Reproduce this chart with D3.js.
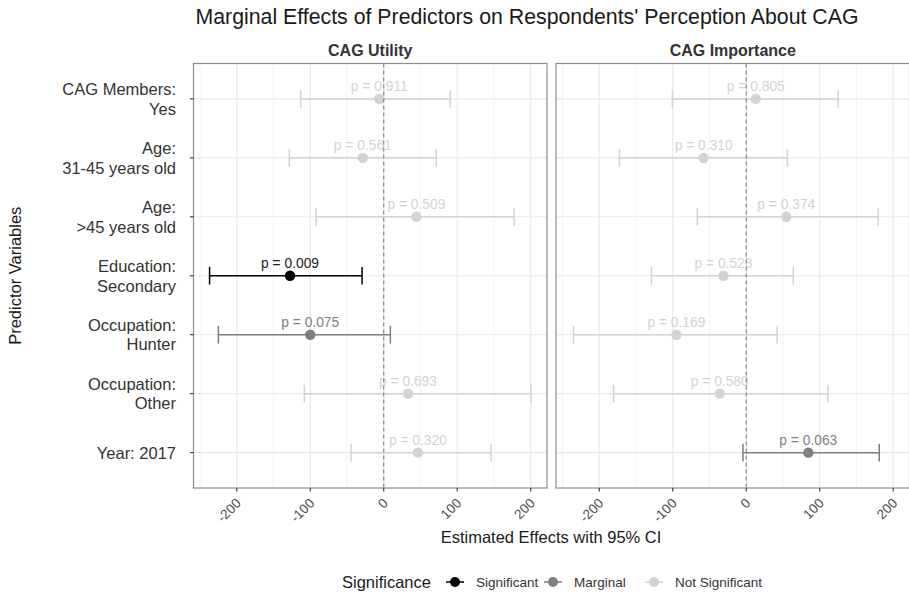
<!DOCTYPE html>
<html>
<head>
<meta charset="utf-8">
<script src="https://cdn.jsdelivr.net/npm/d3@7"></script>
<style>
  body { margin: 0; background: #fff; }
  text { font-family: "Liberation Sans", Arial, sans-serif; }
</style>
</head>
<body>
<div id="chart"></div>
<script>
// predictor labels (top to bottom), two lines each where needed
var predictors = [
  ["CAG Members:", "Yes"],
  ["Age:", "31-45 years old"],
  ["Age:", ">45 years old"],
  ["Education:", "Secondary"],
  ["Occupation:", "Hunter"],
  ["Occupation:", "Other"],
  ["Year: 2017"]
];

// CAG Utility panel
var utilityEst = [-6, -28.5, 44.5, -127.5, -100, 33, 46.5];
var utilityLow = [-113, -128.5, -92, -237, -225, -108, -44.5];
var utilityHigh = [90.5, 71.5, 177.5, -29.5, 9, 200.3, 146];
var utilityP = ["0.911", "0.561", "0.509", "0.009", "0.075", "0.693", "0.320"];

// CAG Importance panel
var importanceEst = [13, -58, 54.5, -31, -95, -36, 84.5];
var importanceLow = [-100.5, -172.5, -66.5, -129, -235, -180.5, -4.5];
var importanceHigh = [125, 56, 179.5, 64, 42, 111, 181];
var importanceP = ["0.805", "0.310", "0.374", "0.523", "0.169", "0.580", "0.063"];

var xTicks = [-200, -100, 0, 100, 200];
var xMinor = [-250, -150, -50, 50, 150];

var sigLevels = ["Significant", "Marginal", "Not Significant"];
var sigColors = ["#000000", "#7f7f7f", "#d3d3d3"];

var width = 909, height = 593;
var panelTop = 63.5, panelBottom = 488;
var panelW = 353.5;
var panelLefts = [193.5, 556];

var svg = d3.select("#chart").append("svg")
    .attr("width", width)
    .attr("height", height);

var color = d3.scaleOrdinal().domain(sigLevels).range(sigColors);

function sigOf(p) {
  var v = +p;
  if (v < 0.05) return "Significant";
  if (v < 0.1) return "Marginal";
  return "Not Significant";
}

// shared x domain with 5% expansion like ggplot
var allVals = utilityLow.concat(utilityHigh, importanceLow, importanceHigh);
var ext = d3.extent(allVals);
var pad = (ext[1] - ext[0]) * 0.05;

var y = d3.scalePoint()
    .domain(d3.range(predictors.length))
    .range([panelTop, panelBottom])
    .padding(0.6);

// title
svg.append("text")
    .attr("x", 527)
    .attr("y", 24)
    .attr("text-anchor", "middle")
    .attr("font-size", 21.3)
    .attr("fill", "#1a1a1a")
    .text("Marginal Effects of Predictors on Respondents' Perception About CAG");

function drawPanel(left, name, est, low, high, pvals) {
  var x = d3.scaleLinear()
      .domain([ext[0] - pad, ext[1] + pad])
      .range([left, left + panelW]);

  var g = svg.append("g");

  // strip label
  g.append("text")
      .attr("x", left + panelW / 2)
      .attr("y", 56)
      .attr("text-anchor", "middle")
      .attr("font-size", 16)
      .attr("font-weight", "bold")
      .attr("fill", "#333")
      .text(name);

  // grid
  g.selectAll(".minor").data(xMinor).enter().append("line")
      .attr("x1", function(d) { return x(d); })
      .attr("x2", function(d) { return x(d); })
      .attr("y1", panelTop).attr("y2", panelBottom)
      .attr("stroke", "#f4f4f4").attr("stroke-width", 1);
  g.selectAll(".major").data(xTicks).enter().append("line")
      .attr("x1", function(d) { return x(d); })
      .attr("x2", function(d) { return x(d); })
      .attr("y1", panelTop).attr("y2", panelBottom)
      .attr("stroke", "#e8e8e8").attr("stroke-width", 1.1);
  g.selectAll(".hgrid").data(d3.range(predictors.length)).enter().append("line")
      .attr("x1", left).attr("x2", left + panelW)
      .attr("y1", function(d) { return y(d); })
      .attr("y2", function(d) { return y(d); })
      .attr("stroke", "#e8e8e8").attr("stroke-width", 1.1);

  var rows = d3.range(predictors.length).map(function(i) {
    return {i: i, est: est[i], low: low[i], high: high[i], p: pvals[i], sig: sigOf(pvals[i])};
  });

  // error bars
  var cap = 0.3 * y.step() / 2;
  rows.forEach(function(d) {
    var c = color(d.sig);
    g.append("line")
        .attr("x1", x(d.low)).attr("x2", x(d.high))
        .attr("y1", y(d.i)).attr("y2", y(d.i))
        .attr("stroke", c).attr("stroke-width", 1.5);
    [d.low, d.high].forEach(function(v) {
      g.append("line")
          .attr("x1", x(v)).attr("x2", x(v))
          .attr("y1", y(d.i) - cap).attr("y2", y(d.i) + cap)
          .attr("stroke", c).attr("stroke-width", 1.5);
    });
  });

  // points
  g.selectAll(".pt").data(rows).enter().append("circle")
      .attr("cx", function(d) { return x(d.est); })
      .attr("cy", function(d) { return y(d.i); })
      .attr("r", 5.2)
      .attr("fill", function(d) { return color(d.sig); });

  // p labels
  g.selectAll(".plab").data(rows).enter().append("text")
      .attr("x", function(d) { return x(d.est); })
      .attr("y", function(d) { return y(d.i) - 8; })
      .attr("text-anchor", "middle")
      .attr("font-size", 13.8)
      .attr("fill", function(d) { return d.sig == "Significant" ? "#222" : color(d.sig); })
      .text(function(d) { return "p = " + d.p; });

  // zero line
  g.append("line")
      .attr("x1", x(0)).attr("x2", x(0))
      .attr("y1", panelTop).attr("y2", panelBottom)
      .attr("stroke", "#808080").attr("stroke-width", 1.1)
      .attr("stroke-dasharray", "4,3");

  // panel border
  g.append("rect")
      .attr("x", left).attr("y", panelTop)
      .attr("width", panelW).attr("height", panelBottom - panelTop)
      .attr("fill", "none").attr("stroke", "#8c8c8c").attr("stroke-width", 1.2);

  // x axis ticks and rotated labels
  g.selectAll(".xt").data(xTicks).enter().append("line")
      .attr("x1", function(d) { return x(d); })
      .attr("x2", function(d) { return x(d); })
      .attr("y1", panelBottom).attr("y2", panelBottom + 3.5)
      .attr("stroke", "#333").attr("stroke-width", 1.1);
  g.selectAll(".xl").data(xTicks).enter().append("text")
      .attr("transform", function(d) { return "translate(" + (x(d) + 5) + "," + (panelBottom + 16) + ")rotate(-45)"; })
      .attr("text-anchor", "end")
      .attr("font-size", 13.5)
      .attr("fill", "#4d4d4d")
      .text(function(d) { return d; });
}

drawPanel(panelLefts[0], "CAG Utility", utilityEst, utilityLow, utilityHigh, utilityP);
drawPanel(panelLefts[1], "CAG Importance", importanceEst, importanceLow, importanceHigh, importanceP);

// y axis ticks and labels
var yAxis = svg.append("g");
yAxis.selectAll(".yt").data(d3.range(predictors.length)).enter().append("line")
    .attr("x1", panelLefts[0] - 3.5).attr("x2", panelLefts[0])
    .attr("y1", function(d) { return y(d); })
    .attr("y2", function(d) { return y(d); })
    .attr("stroke", "#333").attr("stroke-width", 1.1);

predictors.forEach(function(lines, i) {
  var t = yAxis.append("text")
      .attr("text-anchor", "end")
      .attr("font-size", 16.5)
      .attr("fill", "#333");
  var n = lines.length;
  lines.forEach(function(s, k) {
    t.append("tspan")
        .attr("x", 176)
        .attr("y", y(i) + 6 + (k - (n - 1) / 2) * 19.5)
        .text(s);
  });
});

// axis titles
svg.append("text")
    .attr("transform", "translate(21," + ((panelTop + panelBottom) / 2) + ")rotate(-90)")
    .attr("text-anchor", "middle")
    .attr("font-size", 16.5)
    .attr("fill", "#1a1a1a")
    .text("Predictor Variables");

svg.append("text")
    .attr("x", 551)
    .attr("y", 543)
    .attr("text-anchor", "middle")
    .attr("font-size", 16.5)
    .attr("fill", "#1a1a1a")
    .text("Estimated Effects with 95% CI");

// legend
var legend = svg.append("g");
legend.append("text")
    .attr("x", 342)
    .attr("y", 588)
    .attr("font-size", 16.5)
    .attr("fill", "#1a1a1a")
    .text("Significance");

var keyX = [455, 553, 654];
sigLevels.forEach(function(s, i) {
  legend.append("line")
      .attr("x1", keyX[i] - 9).attr("x2", keyX[i] + 9)
      .attr("y1", 582).attr("y2", 582)
      .attr("stroke", color(s)).attr("stroke-width", 1.5);
  legend.append("circle")
      .attr("cx", keyX[i]).attr("cy", 582).attr("r", 5)
      .attr("fill", color(s));
  legend.append("text")
      .attr("x", keyX[i] + 21)
      .attr("y", 587)
      .attr("font-size", 13.5)
      .attr("fill", "#333")
      .text(s);
});
</script>
</body>
</html>
